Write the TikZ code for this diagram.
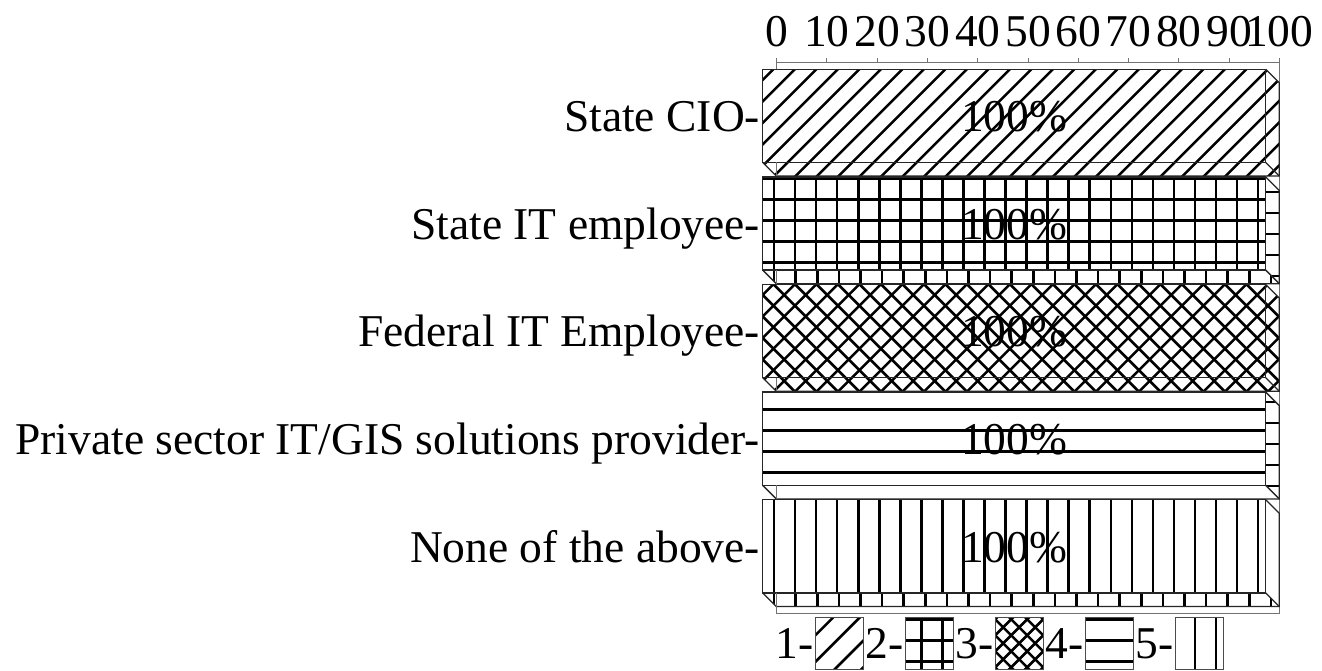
\documentclass[tikz,border=0pt]{standalone}
\usepackage{fontspec}
\setmainfont{Liberation Serif}
\def\myL{762.7}
\def\myR{1265.7}
\def\myD{13.6}
\def\myH{93.2}
\tikzset{
  hatch/.style={line width=2.6pt,black},
  barline/.style={line width=1.3pt,black!85},
  wall/.style={line width=1pt,black!55},
  legline/.style={line width=1pt,black!70},
  txt/.style={font=\fontsize{45.5}{54}\selectfont,inner sep=0pt,outer sep=0pt},
  lbl/.style={txt,anchor=base east},
  tl/.style={txt,anchor=base},
  pct/.style={txt,anchor=base},
}
% pattern helpers (use \myyA, \myyB as y range)
\newcommand\patV[2]{\foreach \k in {-1,...,26}{\draw[hatch] ({#1+#2*\k},\myyA) -- ({#1+#2*\k},\myyB);}}
\newcommand\patH[1]{\foreach \k in {-9,...,24}{\draw[hatch] (740,{178.3+#1+21*\k}) -- (1300,{178.3+#1+21*\k});}}
\newcommand\patA[2]{\foreach \k in {-40,...,60}{\draw[hatch] ({#1+#2*\k-\myyB},\myyB) -- ({#1+#2*\k-\myyA},\myyA);}}
\newcommand\patB[2]{\foreach \k in {-40,...,40}{\draw[hatch] ({#1+#2*\k+\myyA},\myyA) -- ({#1+#2*\k+\myyB},\myyB);}}
\newcommand\mybar[4]{%
  \pgfmathsetmacro\myT{#1}%
  \pgfmathsetmacro\myB{#1+\myH}%
  \pgfmathsetmacro\myyA{#1-2}%
  \pgfmathsetmacro\myyB{#1+\myH+\myD+2}%
  \fill[white] (\myL,\myT) rectangle (\myR,\myB);
  \begin{scope}\clip (\myL,\myT) rectangle (\myR,\myB);#2\end{scope}
  \fill[white] (\myR,\myT) -- (\myR+\myD,\myT+\myD) -- (\myR+\myD,\myB+\myD) -- (\myR,\myB) -- cycle;
  \begin{scope}\clip (\myR,\myT) -- (\myR+\myD,\myT+\myD) -- (\myR+\myD,\myB+\myD) -- (\myR,\myB) -- cycle;#3\end{scope}
  \fill[white] (\myL,\myB) -- (\myR,\myB) -- (\myR+\myD,\myB+\myD) -- (\myL+\myD,\myB+\myD) -- cycle;
  \begin{scope}\clip (\myL,\myB) -- (\myR,\myB) -- (\myR+\myD,\myB+\myD) -- (\myL+\myD,\myB+\myD) -- cycle;#4\end{scope}
  \draw[barline] (\myL,\myT) rectangle (\myR,\myB);
  \draw[barline] (\myR,\myT) -- (\myR+\myD,\myT+\myD) -- (\myR+\myD,\myB+\myD) -- (\myL+\myD,\myB+\myD) -- (\myL,\myB);
  \draw[barline] (\myR,\myB) -- (\myR+\myD,\myB+\myD);
  \draw[wall] (\myL+\myD,\myB) -- (\myL+\myD,\myB+\myD);
}
\newcommand\mylegbox[2]{%
  \pgfmathsetmacro\myyA{615}%
  \pgfmathsetmacro\myyB{672}%
  \fill[white] (#1,617.3) rectangle (#1+48.3,669.3);
  \begin{scope}\clip (#1,617.3) rectangle (#1+48.3,669.3);#2\end{scope}
  \draw[legline] (#1,617.3) rectangle (#1+48.3,669.3);
}
\begin{document}
\begin{tikzpicture}[x=1pt,y=-1pt]
\useasboundingbox (0,0) rectangle (1322,671);
% back wall and axis
\draw[wall] (776.7,62.3) -- (1279.3,62.3);
\draw[wall] (776.7,62.3) -- (776.7,613.3) -- (1279.3,613.3) -- (1279.3,62.3);
\foreach \v [count=\i from 0] in {0,10,...,100}{
  \draw[wall] ({776.7+5.026*\v},58.3) -- ({776.7+5.026*\v},62.3);
  \node[tl] (tick\i) at ({776.7+5.026*\v},46.7) {\v};
}
% bar 1: diagonal
\mybar{69.3}{\patA{842.6}{21.5}}{\patA{842.6}{21.5}}{\patA{842.6}{21.5}}
\node[lbl] (lab1) at (760,\myT+62.4) {State CIO-};
\node[pct] (pct1) at (1014.2,\myT+62.4) {100\%};
% bar 2: grid
\mybar{176.9}{\patV{774}{21.05}\patH{0}}{\patH{13.6}}{\patV{774}{21.6}}
\node[lbl] (lab2) at (760,\myT+62.4) {State IT employee-};
\node[pct] (pct2) at (1014.2,\myT+62.4) {100\%};
% bar 3: crosshatch
\mybar{284.5}{\patA{842.6}{21.5}\patB{682.8}{21.5}}{\patA{842.6}{21.5}\patB{682.8}{21.5}}{\patA{842.6}{21.5}\patB{682.8}{21.5}}
\node[lbl] (lab3) at (760,\myT+62.4) {Federal IT Employee-};
\node[pct] (pct3) at (1014.2,\myT+62.4) {100\%};
% bar 4: horizontal
\mybar{392.1}{\patH{0}}{\patH{13.6}}{}
\node[lbl] (lab4) at (760,\myT+62.4) {Private sector IT/GIS solutions provider-};
\node[pct] (pct4) at (1014.2,\myT+62.4) {100\%};
% bar 5: vertical
\mybar{499.7}{\patV{774}{21.05}}{}{\patV{774}{21.6}}
\node[lbl] (lab5) at (760,\myT+62.4) {None of the above-};
\node[pct] (pct5) at (1014.2,\myT+62.4) {100\%};
% legend
\node[lbl] (leg1) at (813.3,658.3) {1-};
\mylegbox{815}{\patA{1450.6}{26.7}}
\node[lbl] (leg2) at (903.3,658.3) {2-};
\mylegbox{905}{\patV{774}{21.05}\patH{0}}
\node[lbl] (leg3) at (993.3,658.3) {3-};
\mylegbox{995}{\patA{1662.45}{16}\patB{375.85}{16}}
\node[lbl] (leg4) at (1083.3,658.3) {4-};
\mylegbox{1085}{\patH{0}}
\node[lbl] (leg5) at (1173.3,658.3) {5-};
\mylegbox{1175}{\patV{774}{21.05}}
\end{tikzpicture}
\end{document}
